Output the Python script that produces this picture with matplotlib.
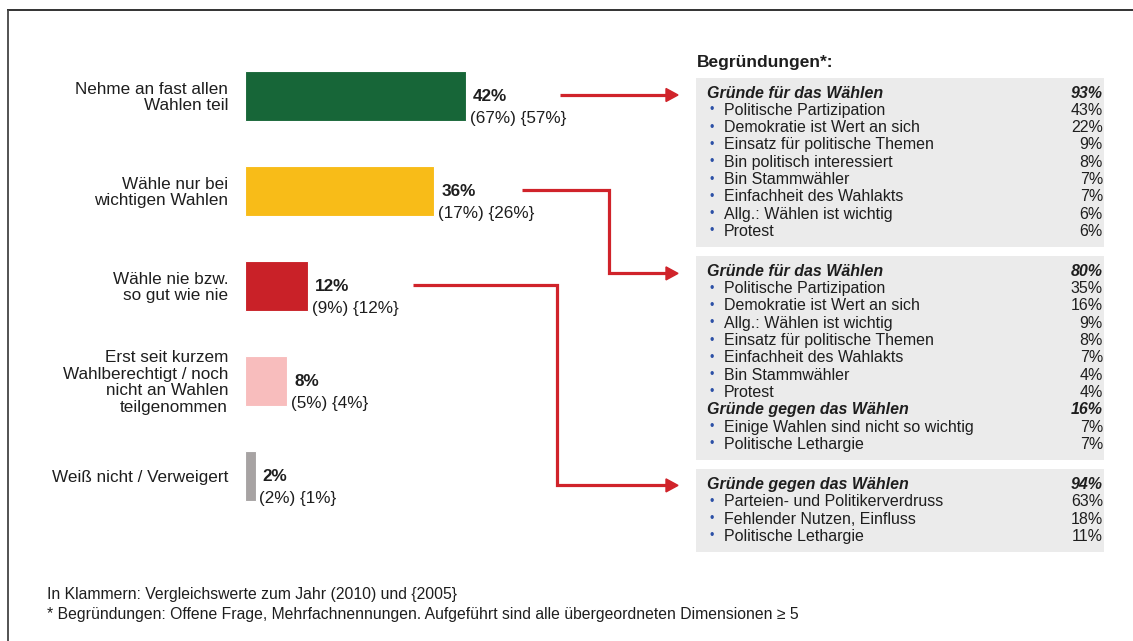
import matplotlib
matplotlib.use("Agg")
import matplotlib.pyplot as plt
from matplotlib.patches import Rectangle, Polygon

plt.rcParams['font.family'] = ['Liberation Sans', 'DejaVu Sans']

# --- data -------------------------------------------------------------
categories = ["Nehme an fast allen\nWahlen teil",
              "Wähle nur bei\nwichtigen Wahlen",
              "Wähle nie bzw.\nso gut wie nie",
              "Erst seit kurzem\nWahlberechtigt / noch\nnicht an Wahlen\nteilgenommen",
              "Weiß nicht / Verweigert"]
values = [42, 36, 12, 8, 2]
values_2010 = [67, 17, 9, 5, 2]
values_2005 = [57, 26, 12, 4, 1]
bar_colors = ["#176638", "#F8BC18", "#C92128", "#F8BDBD", "#A7A3A3"]

box1 = [("Gründe für das Wählen", "93%", True),
        ("Politische Partizipation", "43%", False),
        ("Demokratie ist Wert an sich", "22%", False),
        ("Einsatz für politische Themen", "9%", False),
        ("Bin politisch interessiert", "8%", False),
        ("Bin Stammwähler", "7%", False),
        ("Einfachheit des Wahlakts", "7%", False),
        ("Allg.: Wählen ist wichtig", "6%", False),
        ("Protest", "6%", False)]
box2 = [("Gründe für das Wählen", "80%", True),
        ("Politische Partizipation", "35%", False),
        ("Demokratie ist Wert an sich", "16%", False),
        ("Allg.: Wählen ist wichtig", "9%", False),
        ("Einsatz für politische Themen", "8%", False),
        ("Einfachheit des Wahlakts", "7%", False),
        ("Bin Stammwähler", "4%", False),
        ("Protest", "4%", False),
        ("Gründe gegen das Wählen", "16%", True),
        ("Einige Wahlen sind nicht so wichtig", "7%", False),
        ("Politische Lethargie", "7%", False)]
box3 = [("Gründe gegen das Wählen", "94%", True),
        ("Parteien- und Politikerverdruss", "63%", False),
        ("Fehlender Nutzen, Einfluss", "18%", False),
        ("Politische Lethargie", "11%", False)]

footnotes = ["In Klammern: Vergleichswerte zum Jahr (2010) und {2005}",
             "* Begründungen: Offene Frage, Mehrfachnennungen. Aufgeführt sind alle übergeordneten Dimensionen ≥ 5"]

W, H = 1133, 641
txt = "#1e1e1e"
red = "#D0232A"

fig = plt.figure(figsize=(W / 100, H / 100), dpi=100)

# overlay in pixel coordinates
ov = fig.add_axes([0, 0, 1, 1])
ov.set_xlim(0, W)
ov.set_ylim(H, 0)
ov.axis("off")

# frame
ov.plot([7, W], [9.5, 9.5], color="#222222", lw=1.3, solid_capstyle="butt")
ov.plot([7.5, 7.5], [9.5, H], color="#444444", lw=1.3, solid_capstyle="butt")

# --- bars --------------------------------------------------------------
px_per_pct = 221 / 42
bar_left, row_top, row_h = 245, 48.5, 95
ax = fig.add_axes([bar_left / W, (H - (row_top + 5 * row_h)) / H,
                   50 * px_per_pct / W, 5 * row_h / H])
ypos = list(range(len(values)))
ax.barh(ypos, values, height=50 / row_h, color=bar_colors, edgecolor="white", linewidth=0.8)
ax.set_xlim(0, 50)
ax.set_ylim(4.5, -0.5)
ax.axis("off")

for i, (v, a, b) in enumerate(zip(values, values_2010, values_2005)):
    ax.annotate(f"{v}%", (v, i), xytext=(5, -0.7), textcoords="offset points",
                ha="left", va="center", fontsize=12.3, fontweight="bold", color=txt)
    ax.annotate(f"({a}%) {{{b}%}}", (v, i), xytext=(2.6, -16), textcoords="offset points",
                ha="left", va="center", fontsize=12.3, color=txt)
    ax.annotate(categories[i], (0, i), xytext=(-12.2, -1), textcoords="offset points",
                ha="right", va="center", fontsize=12.3, color=txt, linespacing=1.12,
                annotation_clip=False)

# --- reasons panel -----------------------------------------------------
ov.text(697, 62, "Begründungen*:", fontsize=12.5, fontweight="bold", color=txt,
        ha="left", va="center")

step = 17.3
box_l, box_r = 696, 1104
header_y = []
top = 78
for rows in [box1, box2, box3]:
    h = 31 + (len(rows) - 1) * step
    ov.add_patch(Rectangle((box_l, top), box_r - box_l, h, facecolor="#EBEBEB",
                           edgecolor="none"))
    header_y.append(top + 15)
    for k, (label, pct, head) in enumerate(rows):
        y = top + 15 + k * step
        if head:
            ov.text(707, y, label, fontsize=11.5, fontweight="bold", style="italic",
                    color=txt, ha="left", va="center")
            ov.text(1103, y, pct, fontsize=11.5, fontweight="bold", style="italic",
                    color=txt, ha="right", va="center")
        else:
            ov.text(709, y, "•", fontsize=9, color="#2C50A6", ha="left", va="center")
            ov.text(724, y, label, fontsize=11.5, color=txt, ha="left", va="center")
            ov.text(1103, y, pct, fontsize=11.5, color=txt, ha="right", va="center")
    top += h + 9

# --- arrows ------------------------------------------------------------
def arrow(xs, ys):
    tip = xs[-1]
    ov.plot(xs[:-1] + [tip - 10], ys, color=red, lw=2.3, solid_joinstyle="miter",
            solid_capstyle="butt")
    y = ys[-1]
    ov.add_patch(Polygon([(tip - 12, y - 6.5), (tip, y), (tip - 12, y + 6.5)],
                         closed=True, color=red))

bar_y = [row_top + row_h / 2 + i * row_h - 1 for i in range(3)]
arrow([560, 678], [bar_y[0], bar_y[0]])
arrow([522, 609, 609, 678], [bar_y[1], bar_y[1], header_y[1] + 2, header_y[1] + 2])
arrow([413, 557, 557, 678], [bar_y[2], bar_y[2], header_y[2] + 1, header_y[2] + 1])

# --- footnotes ---------------------------------------------------------
for k, line in enumerate(footnotes):
    ov.text(47, 595 + k * 19, line, fontsize=11.3, color=txt, ha="left", va="center")

fig.savefig("out.png", dpi=100)
